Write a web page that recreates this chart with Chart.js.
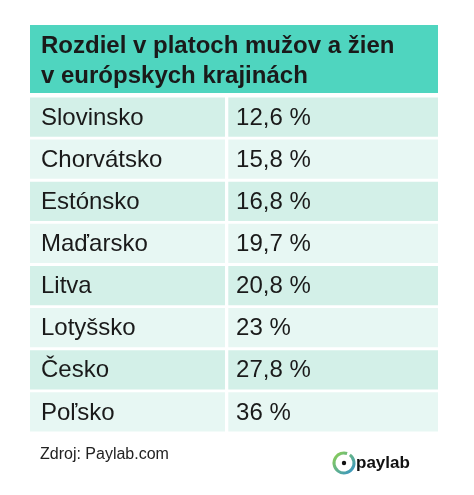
<!DOCTYPE html>
<html>
<head>
<meta charset="utf-8">
<script src="https://cdn.jsdelivr.net/npm/chart.js@4"></script>
<style>
    html, body { margin: 0; padding: 0; background: #ffffff; }
</style>
</head>
<body>
<canvas id="gapChart" width="474" height="495"></canvas>
<script>
const countries = ['Slovinsko', 'Chorvátsko', 'Estónsko', 'Maďarsko', 'Litva', 'Lotyšsko', 'Česko', 'Poľsko'];
const gapLabels = ['12,6 %', '15,8 %', '16,8 %', '19,7 %', '20,8 %', '23 %', '27,8 %', '36 %'];
const titleLines = ['Rozdiel v platoch mužov a žien', 'v európskych krajinách'];
const sourceText = 'Zdroj: Paylab.com';

const rowColors = countries.map((c, i) => (i % 2 === 0 ? '#d3f0e8' : '#e7f7f3'));

const tablePlugin = {
    id: 'tableText',
    afterDatasetsDraw(chart) {
        const { ctx, chartArea, scales } = chart;
        const font = '"Liberation Sans", Arial, sans-serif';
        ctx.save();
        // header
        ctx.fillStyle = '#4fd5bf';
        ctx.fillRect(chartArea.left, 25, chartArea.right - chartArea.left, 68);
        ctx.fillStyle = '#1a1a1a';
        ctx.font = `bold 24px ${font}`;
        ctx.textBaseline = 'middle';
        ctx.fillText(titleLines[0], 41, 46);
        ctx.fillText(titleLines[1], 41, 76);
        // cells
        ctx.font = `24px ${font}`;
        ctx.fillStyle = '#1a1a1a';
        countries.forEach((name, i) => {
            const y = scales.y.getPixelForValue(i) + 1;
            ctx.fillText(name, 41, y);
            ctx.fillText(gapLabels[i], scales.x.getPixelForValue(0.505), y);
        });
        // footer
        ctx.font = `16px ${font}`;
        ctx.fillStyle = '#222222';
        ctx.fillText(sourceText, 40, 455);
        // logo
        const grad = ctx.createLinearGradient(334, 452, 356, 474);
        grad.addColorStop(0, '#8fd14f');
        grad.addColorStop(1, '#2f8fd0');
        ctx.strokeStyle = grad;
        ctx.lineWidth = 3;
        ctx.beginPath();
        ctx.arc(344, 463, 10, -0.3 * Math.PI, 1.6 * Math.PI);
        ctx.stroke();
        ctx.fillStyle = '#111111';
        ctx.beginPath();
        ctx.arc(344, 463, 2.2, 0, 2 * Math.PI);
        ctx.fill();
        ctx.font = `bold 17px ${font}`;
        ctx.fillText('paylab', 356, 463);
        ctx.restore();
    },
};

new Chart(document.getElementById('gapChart'), {
    type: 'bar',
    data: {
        labels: countries,
        datasets: [
            {
                data: countries.map(() => [0, 0.478]),
                backgroundColor: rowColors,
                barPercentage: 1,
                categoryPercentage: 0.93,
                grouped: false,
            },
            {
                data: countries.map(() => [0.486, 1]),
                backgroundColor: rowColors,
                barPercentage: 1,
                categoryPercentage: 0.93,
                grouped: false,
            },
        ],
    },
    options: {
        indexAxis: 'y',
        responsive: false,
        animation: false,
        devicePixelRatio: 1,
        layout: { padding: { left: 30, right: 36, top: 96, bottom: 62 } },
        scales: {
            x: { display: false, min: 0, max: 1 },
            y: { display: false },
        },
        plugins: {
            legend: { display: false },
            tooltip: { enabled: false },
        },
    },
    plugins: [tablePlugin],
});
</script>
</body>
</html>
